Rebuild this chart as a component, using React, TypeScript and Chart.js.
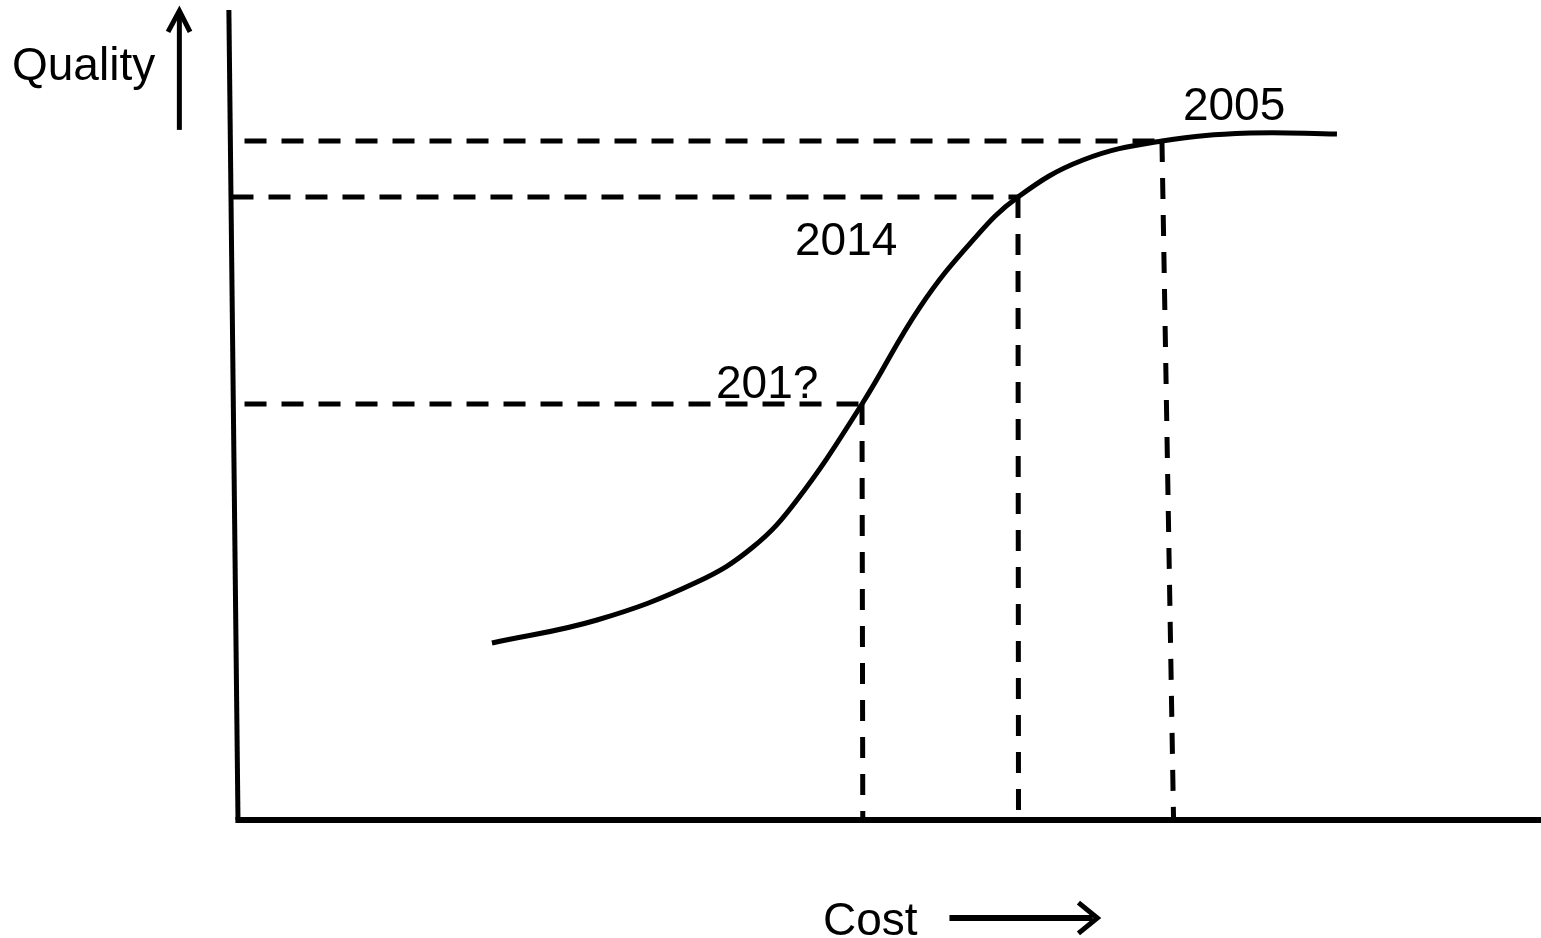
import React, { useEffect, useRef } from "react";
import { Chart, registerables } from "chart.js";

Chart.register(...registerables);

// Curve: cost (x) vs quality (y), 0..100 units
const curveCost = [19.49, 27.55, 35.23, 39.52, 42.9, 47.89, 52.34, 56.41, 59.86, 64.85, 70.91, 77.67, 84.34];
const curveQuality = [21.85, 24.69, 29.38, 33.7, 39.51, 51.36, 63.33, 71.6, 76.91, 81.48, 83.83, 84.81, 84.69];

// Marked years on the curve
const years = ["201?", "2014", "2005"];
const yearCost = [47.89, 59.86, 70.91];
const yearQuality = [51.36, 76.91, 83.83];
const yearCostAtBase = [47.95, 59.9, 71.8];
const guideStart = [0.5, -0.5, 0.5];

const FONT = '46px "Liberation Sans", Arial, sans-serif';

export default function App() {
  const ref = useRef<HTMLCanvasElement | null>(null);

  useEffect(() => {
    if (!ref.current) return;
    const black = "#000";
    const datasets: any[] = [];
    const line = (data: any[], width: number, extra: any = {}) =>
      datasets.push({
        data, borderColor: black, borderWidth: width, pointRadius: 0, showLine: true, clip: false, ...extra,
      });

    // axes
    line([{ x: -0.7, y: 100 }, { x: 0, y: 0 }], 5);
    line([{ x: -0.2, y: 0 }, { x: 100, y: 0 }], 6);

    // guides
    for (let i = 0; i < years.length; i++) {
      line([{ x: guideStart[i], y: yearQuality[i] }, { x: yearCost[i], y: yearQuality[i] }], 5, { borderDash: [22, 15] });
      line([{ x: yearCost[i], y: yearQuality[i] }, { x: yearCostAtBase[i], y: 0 }], 5, { borderDash: [21, 16] });
    }

    // curve
    line(curveCost.map((x, i) => ({ x, y: curveQuality[i] })), 5, { tension: 0.4, borderJoinStyle: "round" });

    // Quality arrow (head points listed right-to-left so all are drawn)
    line([{ x: -4.5, y: 85.2 }, { x: -4.5, y: 99.5 }], 5);
    line([{ x: -3.68, y: 97.3 }, { x: -4.5, y: 99.9 }, { x: -5.37, y: 97.3 }], 5, { borderJoinStyle: "miter" });
    // Cost arrow
    line([{ x: 65.6, y: -12.1 }, { x: 54.6, y: -12.1 }], 6);
    line([{ x: 64.5, y: -14.0 }, { x: 65.95, y: -12.1 }, { x: 64.5, y: -10.2 }], 5, { borderJoinStyle: "miter" });

    const labelPlugin = {
      id: "labels",
      afterDatasetsDraw(chart: any) {
        const { ctx, scales } = chart;
        const xs = scales.x, ys = scales.y;
        ctx.save();
        ctx.font = FONT;
        ctx.fillStyle = black;
        ctx.textBaseline = "alphabetic";
        ctx.textAlign = "left";
        const offsets = [[-146, -6], [-223, 58], [21, -21]];
        for (let i = 0; i < years.length; i++) {
          const px = xs.getPixelForValue(yearCost[i]);
          const py = ys.getPixelForValue(yearQuality[i]);
          ctx.fillText(years[i], px + offsets[i][0], py + offsets[i][1]);
        }
        // axis titles
        ctx.fillText("Quality", xs.getPixelForValue(0) - 226, ys.getPixelForValue(100) + 70);
        ctx.fillText("Cost", xs.getPixelForValue(44.9), ys.getPixelForValue(0) + 115);
        ctx.restore();
      },
    };

    const chart = new Chart(ref.current, {
      type: "scatter",
      data: { datasets },
      options: {
        animation: false,
        responsive: true,
        maintainAspectRatio: false,
        layout: { padding: { left: 238, right: 0, top: 10, bottom: 118 } },
        plugins: { legend: { display: false }, tooltip: { enabled: false } },
        scales: {
          x: { type: "linear", min: 0, max: 100, display: false },
          y: { type: "linear", min: 0, max: 100, display: false },
        },
        elements: { line: { borderCapStyle: "butt" } },
      },
      plugins: [labelPlugin],
    });
    return () => chart.destroy();
  }, []);

  return (
    <div style={{ position: "absolute", left: 0, top: 0, width: 1541, height: 938, background: "#fff" }}>
      <canvas ref={ref} />
    </div>
  );
}
